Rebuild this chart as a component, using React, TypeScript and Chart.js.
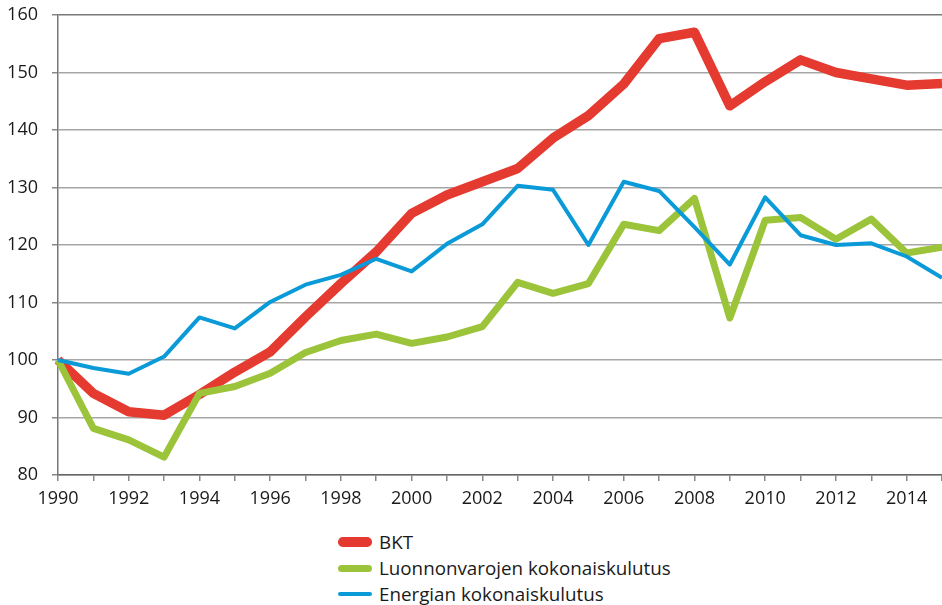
import React, { useEffect, useRef } from "react";
import { Chart, registerables } from "chart.js";

Chart.register(...registerables);

const years = [
  "1990", "1991", "1992", "1993", "1994", "1995", "1996", "1997", "1998", "1999",
  "2000", "2001", "2002", "2003", "2004", "2005", "2006", "2007", "2008", "2009",
  "2010", "2011", "2012", "2013", "2014", "2015",
];

const bkt = [
  100, 94.2, 91.0, 90.4, 94.0, 97.9, 101.4, 107.5, 113.3, 118.8,
  125.5, 128.7, 131.0, 133.3, 138.6, 142.5, 148.0, 155.9, 157.0, 144.2,
  148.4, 152.2, 150.0, 148.9, 147.8, 148.1,
];

const luonnonvarat = [
  100, 88.1, 86.1, 83.1, 94.2, 95.4, 97.7, 101.3, 103.4, 104.5,
  102.9, 104.0, 105.8, 113.5, 111.6, 113.3, 123.6, 122.5, 128.1, 107.3,
  124.3, 124.8, 121.0, 124.5, 118.6, 119.6,
];

const energia = [
  100, 98.6, 97.6, 100.6, 107.4, 105.5, 110.1, 113.1, 114.8, 117.6,
  115.4, 120.2, 123.6, 130.3, 129.6, 120.0, 131.0, 129.4, 123.1, 116.6,
  128.3, 121.7, 120.0, 120.3, 118.0, 114.3,
];

const yTicks = [80, 90, 100, 110, 120, 130, 140, 150, 160];

const seriesNames = ["BKT", "Luonnonvarojen kokonaiskulutus", "Energian kokonaiskulutus"];
const seriesColors = ["#e53a30", "#9cc43a", "#0a9ad8"];
const seriesWidths = [9.5, 7, 4];

const FONT = "'Open Sans', sans-serif";

export default function App() {
  const canvasRef = useRef<HTMLCanvasElement | null>(null);

  useEffect(() => {
    const canvas = canvasRef.current;
    if (!canvas) return;
    const data = [bkt, luonnonvarat, energia];
    const chart = new Chart(canvas, {
      type: "line",
      data: {
        labels: years,
        datasets: data.map((d, i) => ({
          label: seriesNames[i],
          data: d,
          borderColor: seriesColors[i],
          backgroundColor: seriesColors[i],
          borderWidth: seriesWidths[i],
          pointRadius: 0,
          tension: 0,
          fill: false,
          borderJoinStyle: "round" as const,
          borderCapStyle: "butt" as const,
          order: 3 - i,
        })),
      },
      options: {
        animation: false,
        responsive: false,
        maintainAspectRatio: false,
        devicePixelRatio: 1,
        layout: { padding: { left: 0, top: 15, right: 0, bottom: 0 } },
        plugins: {
          legend: { display: false },
          tooltip: { enabled: false },
        },
        scales: {
          x: {
            type: "category",
            offset: false,
            afterFit: (scale: any) => {
              scale.height = 35;
              scale.paddingLeft = 0;
              scale.paddingRight = 0;
            },
            grid: {
              drawOnChartArea: false,
              drawTicks: true,
              tickLength: 6,
              color: "#888888",
              lineWidth: 1.5,
            },
            border: { display: true, color: "#666666", width: 1.5 },
            ticks: {
              autoSkip: false,
              maxRotation: 0,
              padding: 7,
              color: "#1a1a1a",
              font: { family: FONT, size: 18 },
              callback: (_v: any, idx: number) => (idx % 2 === 0 && idx < 25 ? years[idx] : ""),
            },
          },
          y: {
            min: 80,
            max: 160,
            afterFit: (scale: any) => {
              scale.width = 58;
              scale.paddingTop = 0;
              scale.paddingBottom = 0;
            },
            afterBuildTicks: (scale: any) => {
              scale.ticks = yTicks.map((v) => ({ value: v }));
            },
            grid: {
              color: (ctx: any) => (ctx.tick && ctx.tick.value === 160 ? "#777777" : "#a6a6a6"),
              lineWidth: 1.5,
              tickLength: 6,
              tickColor: "#888888",
            },
            border: { display: true, color: "#777777", width: 1.5 },
            ticks: {
              padding: 14,
              color: "#1a1a1a",
              font: { family: FONT, size: 18 },
            },
          },
        },
      },
    });
    return () => chart.destroy();
  }, []);

  return (
    <div style={{ position: "absolute", left: 0, top: 0, width: 942, height: 605, background: "#ffffff" }}>
      <canvas ref={canvasRef} width={942} height={510} style={{ position: "absolute", left: 0, top: 0, width: 942, height: 510 }} />
      <div style={{ position: "absolute", left: 338, top: 529, fontFamily: FONT, fontSize: 18.8, color: "#1a1a1a" }}>
        {seriesNames.map((n, i) => (
          <div key={n} style={{ display: "flex", alignItems: "center", height: 26 }}>
            <span
              style={{
                display: "inline-block",
                width: 34,
                height: seriesWidths[i],
                borderRadius: seriesWidths[i] / 2,
                background: seriesColors[i],
                marginRight: 7,
              }}
            />
            <span style={{ lineHeight: "26px" }}>{n}</span>
          </div>
        ))}
      </div>
    </div>
  );
}
